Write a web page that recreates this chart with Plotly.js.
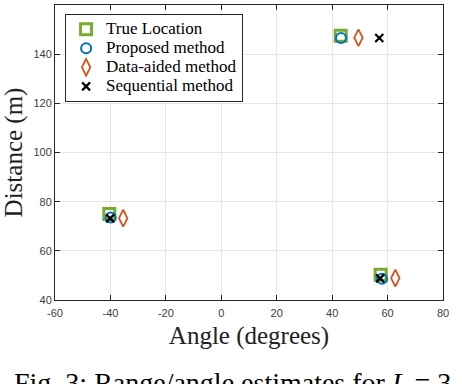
<!DOCTYPE html>
<html>
<head>
<meta charset="utf-8">
<script src="https://cdn.plot.ly/plotly-3.0.1.min.js"></script>
<style>
  html, body { margin: 0; padding: 0; background: #fff; }
  #plot { width: 462px; height: 384px; }
</style>
</head>
<body>
<div id="plot"></div>
<script>
// angle (degrees) / distance (m) for each target
var trueAngle = [43.1, -40.4, 57.5];
var trueDist = [147.5, 75.0, 50.3];

var propAngle = [43.2, -39.9, 58.0];
var propDist = [146.6, 73.6, 48.6];

var dataAngle = [49.5, -35.4, 62.8];
var dataDist = [146.7, 73.3, 48.9];

var seqAngle = [57.0, -40.1, 57.3];
var seqDist = [146.6, 73.2, 48.8];

var xTicks = [-60, -40, -20, 0, 20, 40, 60, 80];
var xTickText = ["-60", "-40", "-20", "0", "20", "40", "60", "80"];
var yTicks = [40, 60, 80, 100, 120, 140, 160];
var yTickText = ["40", "60", "80", "100", "120", "140", "160"];

var serif = "Liberation Serif, Times New Roman, serif";
// bigger text inside legend names, legend font kept small so rows stay tight
function big(s) { return '<span style="font-size:17px">' + s + '</span>'; }

var traces = [
  {x: trueAngle, y: trueDist, name: big("True Location"), mode: "markers", type: "scatter",
   marker: {symbol: "square-open", size: 11, color: "#77AC30", line: {width: 3}}},
  {x: propAngle, y: propDist, name: big("Proposed method"), mode: "markers", type: "scatter",
   marker: {symbol: "circle-open", size: 10, color: "#0072BD", line: {width: 2}}},
  {x: dataAngle, y: dataDist, name: big("Data-aided method"), mode: "markers", type: "scatter",
   marker: {symbol: "diamond-tall-open", size: 12, color: "#D95319", line: {width: 1.8}}},
  {x: seqAngle, y: seqDist, name: big("Sequential method"), mode: "markers", type: "scatter",
   marker: {symbol: "x-thin-open", size: 8, color: "#000000", line: {width: 2.2}}}
];

var axisCommon = {
  showline: true, mirror: "ticks", linecolor: "#262626", linewidth: 1,
  ticks: "inside", ticklen: 5, tickcolor: "#262626",
  showgrid: true, gridcolor: "#e6e6e6", zeroline: false,
  tickfont: {family: "Liberation Sans, Arial", size: 11, color: "#404040"},
  tickmode: "array"
};

var layout = {
  width: 462, height: 384,
  margin: {l: 55, r: 19, t: 5, b: 84},
  paper_bgcolor: "#fff", plot_bgcolor: "#fff",
  xaxis: Object.assign({}, axisCommon, {
    range: [-60, 80], tickvals: xTicks, ticktext: xTickText, ticklabelstandoff: 3,
    title: {text: "Angle (degrees)", standoff: 8,
            font: {family: serif, size: 25, color: "#222"}}
  }),
  yaxis: Object.assign({}, axisCommon, {
    range: [40, 160], tickvals: yTicks, ticktext: yTickText,
    title: {text: "Distance (m)", standoff: 4,
            font: {family: serif, size: 25, color: "#222"}}
  }),
  legend: {
    x: 0.026, y: 0.97, xanchor: "left", yanchor: "top",
    bgcolor: "#fff", bordercolor: "#262626", borderwidth: 1,
    font: {family: serif, size: 12, color: "#000"},
    tracegroupgap: 0, itemwidth: 30
  },
  annotations: [{
    xref: "paper", yref: "paper", x: -0.111, y: -0.22, xanchor: "left", yanchor: "top",
    showarrow: false, align: "left",
    text: "Fig. 3: Range/angle estimates for <i>L</i> = 3",
    font: {family: serif, size: 28, color: "#000"}
  }],
  showlegend: true
};

Plotly.newPlot("plot", traces, layout, {displayModeBar: false, staticPlot: true});
</script>
</body>
</html>
